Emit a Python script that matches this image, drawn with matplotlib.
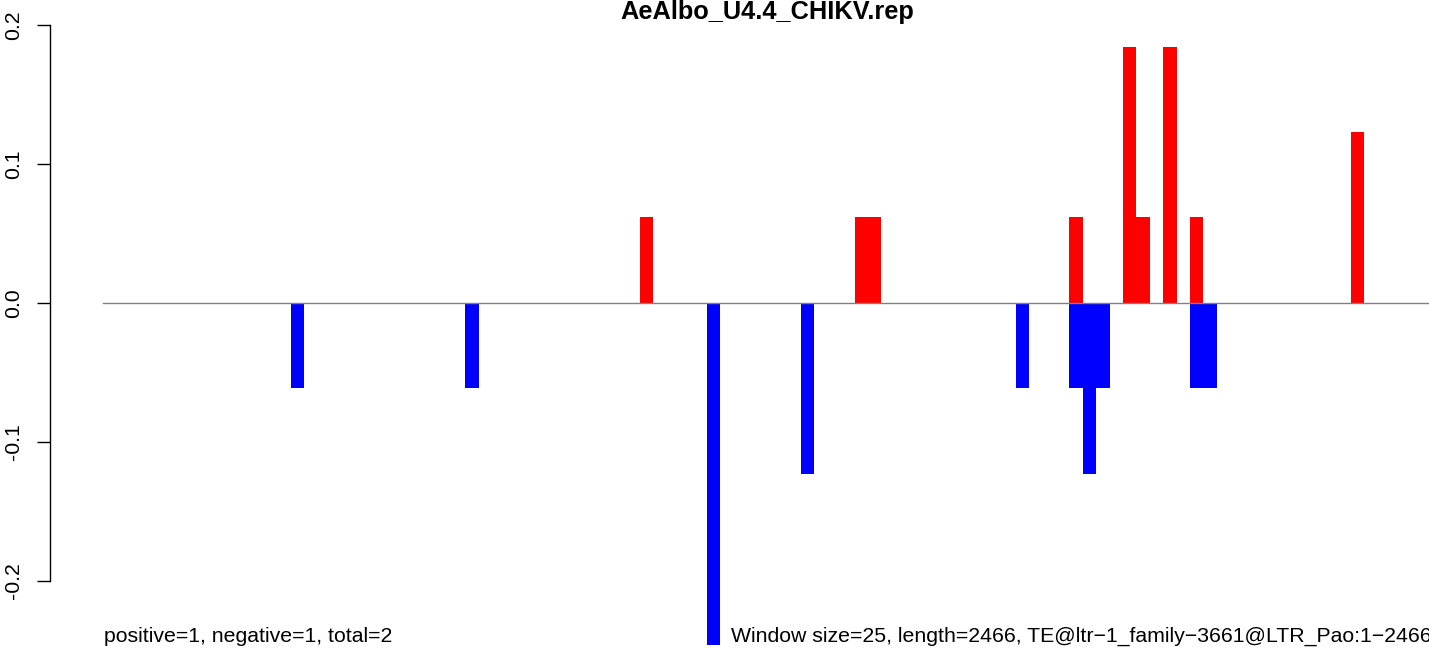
import matplotlib
matplotlib.use("Agg")
import matplotlib.pyplot as plt

plt.rcParams["font.family"] = ["Liberation Sans", "DejaVu Sans"]

# window index -> score (one window = 25 bp)
pos_idx = [40, 56, 57, 72, 76, 77, 79, 81, 93]
pos_val = [0.0615, 0.0615, 0.0615, 0.0615, 0.1845, 0.0615, 0.1845, 0.0615, 0.123]
neg_idx = [14, 27, 45, 52, 68, 72, 73, 74, 81, 82]
neg_val = [-0.0615, -0.0615, -0.246, -0.123, -0.0615, -0.0615, -0.123, -0.0615, -0.0615, -0.0615]
n_windows = 99
yticks = [-0.2, -0.1, 0.0, 0.1, 0.2]

title = "AeAlbo_U4.4_CHIKV.rep"
left_note = "positive=1, negative=1, total=2"
right_note = "Window size=25, length=2466, TE@ltr\u22121_family\u22123661@LTR_Pao:1\u22122466"

W, H = 1429, 649
fig = plt.figure(figsize=(W / 100, H / 100), dpi=100)

# plot region in pixels (R-style: extends past the right/bottom edge)
px_left, px_right = 50.0, 1484.7
px_top, px_bottom = 22.6, 668.8
ax = fig.add_axes([px_left / W, 1 - px_bottom / H,
                   (px_right - px_left) / W, (px_bottom - px_top) / H])

ax.bar(pos_idx, pos_val, width=1.0, align="edge", color="red", linewidth=0)
ax.bar(neg_idx, neg_val, width=1.0, align="edge", color="blue", linewidth=0)
ax.plot([0, n_windows], [0, 0], color="#808080", lw=1.0)

ax.set_xlim(-0.04 * n_windows, 1.04 * n_windows)
ax.set_ylim(-0.2632, 0.2017)

for side in ["top", "right", "bottom"]:
    ax.spines[side].set_visible(False)
ax.spines["left"].set_bounds(-0.2, 0.2)
ax.spines["left"].set_linewidth(1.0)
ax.set_xticks([])
ax.set_yticks(yticks)
ax.set_yticklabels([f"{v:.1f}" for v in yticks], rotation=90, va="center")
ax.tick_params(axis="y", length=9.6, width=1.0, labelsize=15.3, pad=9.5)

fig.text(767.5 / W, 1 - 12.5 / H, title, ha="center", va="center",
         fontsize=18.3, fontweight="bold")
fig.text(104 / W, 1 - 636 / H, left_note, ha="left", va="center", fontsize=15.3)
fig.text(731 / W, 1 - 636 / H, right_note, ha="left", va="center", fontsize=15.3)

fig.savefig("out.png", dpi=100)
